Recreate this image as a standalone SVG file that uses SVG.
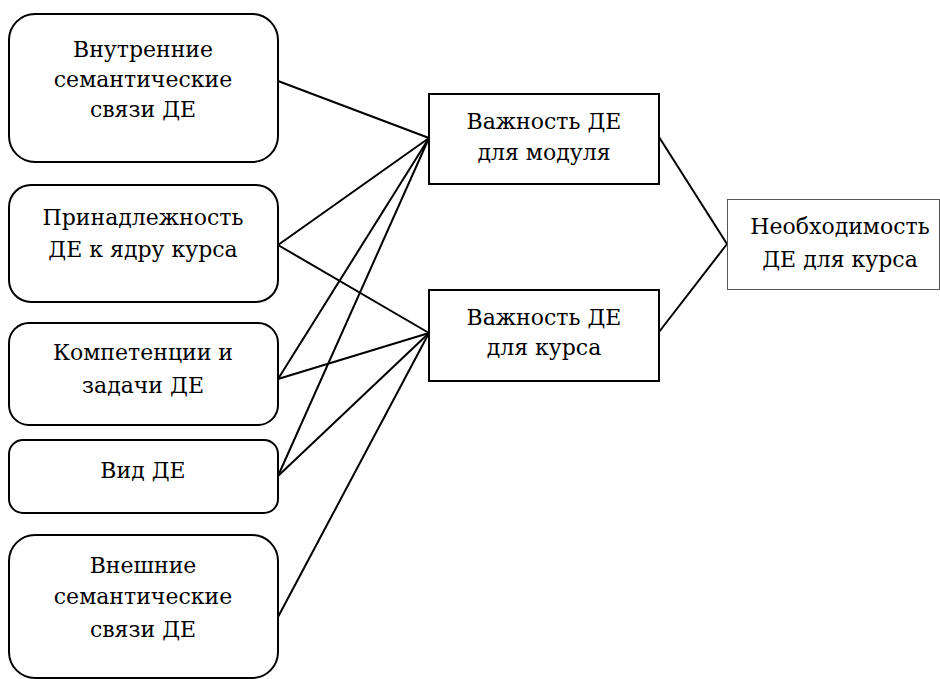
<svg xmlns="http://www.w3.org/2000/svg" width="940" height="679" viewBox="0 0 940 679">
<style>
.b{fill:#fff;stroke:#000;stroke-width:2}
.r{fill:#fff;stroke:#555;stroke-width:1}
.t{font-family:"DejaVu Serif",serif;font-size:22px;fill:#000;text-anchor:middle}
.c line{stroke:#000;stroke-width:2}
</style>
<rect width="940" height="679" fill="#fff"/>
<g class="c" id="connectors">
<line x1="278" y1="81" x2="429" y2="138"/>
<line x1="278" y1="245" x2="429" y2="138"/>
<line x1="278" y1="245" x2="429" y2="333"/>
<line x1="278" y1="379" x2="429" y2="138"/>
<line x1="278" y1="379" x2="429" y2="333"/>
<line x1="278" y1="476" x2="429" y2="138"/>
<line x1="278" y1="476" x2="429" y2="333"/>
<line x1="278" y1="617" x2="429" y2="333"/>
<line x1="659" y1="137" x2="727" y2="244"/>
<line x1="659" y1="332" x2="727" y2="244"/>
</g>
<g id="n1"><rect class="b" x="9" y="14" width="269" height="148" rx="26"/>
<text class="t" x="143" y="57">Внутренние</text><text class="t" x="143" y="87">семантические</text><text class="t" x="143" y="117">связи ДЕ</text></g>
<g id="n2"><rect class="b" x="9" y="185" width="269" height="117" rx="22"/>
<text class="t" x="143" y="225">Принадлежность</text><text class="t" x="143" y="257">ДЕ к ядру курса</text></g>
<g id="n3"><rect class="b" x="9" y="323" width="269" height="102" rx="20"/>
<text class="t" x="143" y="360">Компетенции и</text><text class="t" x="143" y="393">задачи ДЕ</text></g>
<g id="n4"><rect class="b" x="9" y="440" width="269" height="73" rx="14"/>
<text class="t" x="143" y="478">Вид ДЕ</text></g>
<g id="n5"><rect class="b" x="9" y="535" width="269" height="143" rx="26"/>
<text class="t" x="143" y="573">Внешние</text><text class="t" x="143" y="604">семантические</text><text class="t" x="143" y="637">связи ДЕ</text></g>
<g id="nA"><rect class="b" x="429" y="94" width="230" height="90"/>
<text class="t" x="544" y="129">Важность ДЕ</text><text class="t" x="544" y="160">для модуля</text></g>
<g id="nB"><rect class="b" x="429" y="290" width="230" height="91"/>
<text class="t" x="544" y="325">Важность ДЕ</text><text class="t" x="544" y="355">для курса</text></g>
<g id="nC"><rect class="r" x="727.5" y="199.5" width="212" height="90"/>
<text class="t" x="840" y="234">Необходимость</text><text class="t" x="840" y="267">ДЕ для курса</text></g>
</svg>
